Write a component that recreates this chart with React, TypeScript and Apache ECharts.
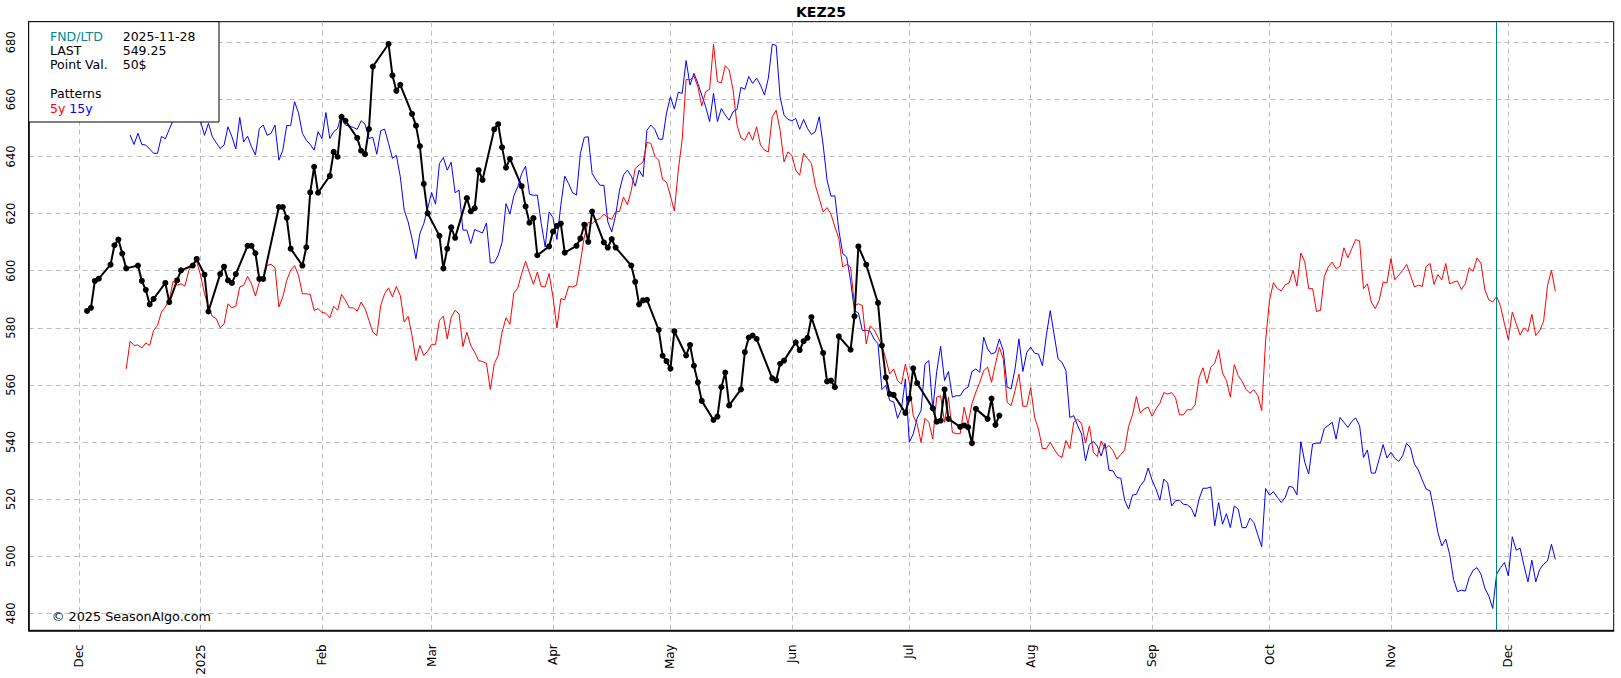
import React, { useEffect, useRef } from "react";
import * as echarts from "echarts";

const TITLE = "KEZ25";
const INFO_LABELS = ["FND/LTD", "LAST", "Point Val."];
const INFO_VALUES = ["2025-11-28", "549.25", "50$"];
const FND_DATE = "2025-11-28";
const COPYRIGHT = "\u00a9 2025 SeasonAlgo.com";
const MONTH_NAMES = ["Jan", "Feb", "Mar", "Apr", "May", "Jun", "Jul", "Aug", "Sep", "Oct", "Nov", "Dec"];
const MONTH_TICKS = [
  "2024-12-01", "2025-01-01", "2025-02-01", "2025-03-01", "2025-04-01", "2025-05-01", "2025-06-01",
  "2025-07-01", "2025-08-01", "2025-09-01", "2025-10-01", "2025-11-01", "2025-12-01",
];
const Y_TICKS = [480, 500, 520, 540, 560, 580, 600, 620, 640, 660, 680];
const X_MIN_DATE = "2024-11-18";
const X_MAX_DATE = "2025-12-27";
const Y_MIN = 474.05;
const Y_MAX = 687.2;

const HOLIDAYS = [
  "2024-12-25", "2025-01-01", "2025-01-20", "2025-02-17", "2025-04-18",
  "2025-05-26", "2025-06-19", "2025-07-04",
];

const BLACK_START = "2024-12-03";
const BLACK_Z25 = [
  585.9, 587.0, 596.4, 597.2,
  602.1, 608.9, 610.9, 606.0, 600.8,
  601.8, 596.4, 593.3, 588.2, 590.1,
  595.7, 589.0, 596.6, 600.1,
  601.8, 604.1, 598.6, 585.7,
  598.8, 601.4, 596.6, 595.7, 598.8,
  608.7, 608.7, 606.1, 597.1, 597.1,
  622.3, 622.3, 618.5, 607.7,
  601.8, 608.2, 627.4, 636.4, 627.3,
  633.2, 641.6, 639.9, 653.9, 652.5,
  646.5, 642.0, 640.8, 649.6, 671.5,
  679.4, 668.4, 663.0, 665.1,
  654.9, 650.8, 643.6, 630.4, 620.1,
  612.2, 600.8, 607.7, 615.2, 611.5,
  625.4, 620.8, 621.9, 635.2, 631.8,
  649.5, 651.3, 643.2, 636.1, 639.2,
  629.6, 622.5, 616.8, 618.4, 605.4,
  608.5, 613.7, 615.7, 616.5, 606.3,
  608.7, 611.3, 616.1, 610.1, 620.7,
  609.9, 608.1, 611.1, 608.1,
  601.8, 596.1, 588.2, 589.6, 589.8,
  579.3, 570.2, 568.3, 565.7, 578.8,
  570.3, 574.0, 566.7, 560.9, 554.4,
  547.7, 548.9, 559.2, 564.3, 552.8,
  558.4, 571.5, 576.6, 577.3, 576.1,
  562.3, 561.6, 567.4, 568.5,
  574.9, 572.2, 575.3, 576.5, 583.7,
  571.2, 561.2, 561.5, 559.2, 577.0,
  572.3, 584.0, 608.5, 602.1,
  588.7, 573.8, 562.6, 556.8, 556.5,
  550.2, 555.2, 565.8, 560.6,
  551.8, 547.1, 547.5, 558.4, 548.1,
  545.3, 545.8, 545.2, 539.6, 551.6,
  548.1, 555.2, 546.0, 549.25,
];

const RED_START = "2024-12-13";
const RED_5Y = [
  565.6, 575.3, 573.8, 574.0, 572.9, 574.7, 573.8, 579.1, 580.8, 585.5,
  587.3, 589.8, 596.4, 594.9, 595.4, 594.6, 600.1, 602.5, 603.2, 598.4,
  591.9, 587.3, 584.0, 583.2, 580.0, 581.4, 588.4, 587.0, 587.6, 594.3,
  594.9, 598.0, 595.4, 591.1, 596.0, 597.2, 601.9, 602.2, 601.1, 587.3,
  590.8, 596.6, 600.1, 601.8, 598.4, 591.9, 591.9, 591.7, 586.1, 586.7,
  585.4, 585.1, 583.5, 587.5, 586.1, 591.7, 589.6, 587.0, 587.0, 585.8,
  589.0, 586.7, 582.6, 578.5, 577.3, 587.8, 591.9, 594.0, 590.8, 594.5,
  591.3, 582.0, 584.0, 577.3, 568.5, 573.8, 570.3, 571.8, 574.2, 574.2,
  582.6, 584.1, 576.1, 583.7, 586.1, 584.9, 573.4, 578.4, 573.8, 571.5,
  568.5, 568.2, 567.6, 558.4, 567.4, 570.3, 578.5, 583.5, 581.2, 592.2,
  593.9, 599.0, 603.3, 599.2, 595.2, 599.5, 594.5, 594.3, 599.0, 590.8,
  579.9, 590.2, 589.8, 594.5, 594.3, 594.9, 603.0, 611.8, 617.0, 616.5,
  617.8, 618.2, 619.8, 618.6, 618.0, 620.6, 620.8, 625.8, 623.1, 628.2,
  635.8, 637.0, 638.1, 644.9, 644.6, 640.1, 638.7, 631.9, 631.0, 626.2,
  620.9, 635.2, 646.0, 667.0, 666.8, 668.2, 664.4, 657.7, 662.7, 663.5,
  679.3, 666.2, 665.8, 671.8, 670.3, 663.3, 651.0, 646.5, 645.7, 648.6,
  645.7, 650.4, 644.0, 642.2, 641.6, 653.9, 656.2, 649.2, 638.1, 641.6,
  640.4, 635.2, 633.4, 641.1, 639.3, 637.6, 629.9, 625.3, 620.6, 622.1,
  619.8, 615.3, 611.3, 601.3, 602.2, 601.3, 587.8, 588.4, 587.8, 574.4,
  580.6, 579.4, 576.7, 573.8, 569.1, 563.8, 565.6, 561.5, 560.3, 567.3,
  560.9, 549.2, 546.3, 539.9, 548.3, 546.9, 541.0, 555.7, 556.2, 546.9,
  555.7, 543.4, 542.9, 542.9, 552.2, 546.3, 553.4, 557.5, 560.9, 565.0,
  566.2, 560.9, 567.3, 573.2, 569.1, 553.9, 552.7, 558.0, 563.8, 552.5,
  552.5, 559.1, 548.6, 544.5, 537.7, 537.7, 539.9, 537.5, 535.4, 534.6,
  540.5, 537.7, 546.9, 548.0, 546.3, 539.6, 545.6, 536.4, 534.9, 540.3,
  537.6, 538.8, 537.0, 534.0, 535.6, 537.2, 545.4, 549.5, 555.9, 550.1,
  551.6, 552.2, 549.0, 551.6, 553.6, 557.3, 556.8, 557.3, 555.5, 549.5,
  549.5, 551.3, 551.3, 553.1, 562.6, 566.0, 560.6, 566.2, 567.6, 572.3,
  564.1, 561.5, 555.7, 567.1, 563.3, 561.3, 558.4, 557.1, 558.3, 556.3,
  551.0, 575.6, 589.6, 595.8, 593.7, 592.9, 595.1, 595.7, 600.1, 594.6,
  606.2, 603.1, 593.7, 593.7, 585.7, 586.1, 598.0, 601.3, 603.0, 600.7,
  601.5, 608.0, 604.5, 607.7, 610.9, 610.4, 593.7, 595.4, 589.0, 586.7,
  589.6, 596.0, 595.8, 604.2, 596.8, 598.4, 600.1, 602.2, 598.4, 594.3,
  594.9, 594.5, 601.5, 602.5, 595.2, 598.6, 596.8, 602.5, 595.4, 596.0,
  596.4, 593.4, 595.4, 601.0, 599.8, 604.5, 602.6, 593.3, 589.8, 589.0,
  591.0, 587.5, 581.4, 575.8, 585.5, 581.4, 577.5, 580.0, 578.7, 584.7,
  577.3, 579.0, 582.3, 594.8, 600.1, 592.8,
];

const BLUE_START = "2024-12-14";
const BLUE_15Y = [
  647.5, 644.2, 648.1, 644.2, 644.0, 642.6, 641.1, 641.1, 647.0, 646.2,
  649.5, 652.8, 655.0, 657.5, 661.0, 658.0, 655.0, 659.0, 652.2, 647.4,
  651.6, 646.9, 644.8, 642.8, 644.0, 650.4, 646.9, 642.6, 653.7, 645.1,
  647.1, 643.4, 640.5, 649.8, 651.0, 647.4, 648.1, 651.0, 638.7, 642.2,
  650.8, 650.8, 659.2, 655.3, 648.1, 645.7, 644.2, 642.2, 648.7, 646.3,
  655.4, 646.3, 648.7, 649.8, 654.9, 651.0, 650.6, 650.2, 649.5, 652.5,
  651.3, 646.3, 646.7, 640.8, 649.0, 649.6, 644.6, 639.3, 640.4, 632.9,
  621.2, 617.1, 611.2, 604.2, 613.0, 616.5, 621.8, 627.4, 623.3, 637.5,
  639.6, 635.2, 638.0, 627.3, 628.2, 614.2, 614.2, 609.5, 614.4, 613.8,
  613.2, 616.7, 602.7, 602.8, 605.4, 609.9, 623.5, 619.8, 626.2, 629.4,
  634.0, 636.6, 626.8, 626.4, 626.5, 616.5, 608.3, 620.6, 618.6, 610.9,
  622.9, 633.1, 630.5, 627.3, 626.5, 641.1, 646.7, 646.9, 634.0, 631.8,
  629.9, 629.9, 617.1, 613.6, 619.4, 628.2, 633.5, 635.2, 633.1, 629.6,
  635.2, 632.9, 649.2, 651.0, 649.5, 646.1, 646.0, 655.3, 660.9, 656.6,
  662.5, 662.1, 673.6, 665.0, 669.1, 665.6, 661.5, 657.4, 652.2, 662.1,
  652.2, 656.8, 654.5, 652.7, 655.7, 656.5, 664.2, 663.5, 668.0, 665.6,
  667.4, 665.0, 661.5, 667.4, 679.3, 678.9, 660.9, 654.5, 653.0, 652.5,
  653.3, 649.5, 653.0, 649.8, 647.7, 648.7, 653.9, 644.0, 631.7, 626.1,
  626.2, 614.2, 606.0, 604.8, 596.5, 586.0, 585.2, 579.1, 579.1, 578.8,
  576.1, 574.4, 558.4, 559.8, 554.5, 554.1, 548.3, 551.5, 562.1, 539.9,
  542.8, 548.3, 551.0, 567.3, 568.5, 551.5, 564.7, 573.5, 561.5, 564.7,
  555.7, 556.2, 556.2, 558.4, 559.2, 564.7, 565.6, 564.4, 576.7, 572.6,
  570.8, 571.4, 576.1, 572.0, 559.2, 558.6, 565.6, 576.1, 564.7, 571.4,
  573.2, 571.1, 570.8, 566.7, 577.3, 586.0, 577.5, 569.1, 567.9, 565.0,
  548.6, 549.2, 545.7, 542.8, 533.4, 539.1, 540.2, 538.6, 535.1, 539.5,
  530.1, 529.9, 527.6, 527.3, 519.6, 516.5, 521.4, 521.7, 524.7, 526.4,
  530.9, 526.7, 523.5, 519.6, 527.0, 525.6, 517.6, 519.4, 519.7, 518.2,
  518.0, 516.8, 513.8, 520.0, 523.8, 523.8, 524.3, 510.6, 518.8, 511.2,
  514.9, 510.0, 517.6, 516.5, 510.0, 510.0, 513.3, 511.8, 507.5, 503.3,
  523.7, 521.4, 522.6, 520.6, 518.8, 520.6, 524.5, 524.1, 521.5, 540.1,
  532.9, 528.8, 539.3, 539.6, 539.6, 544.8, 545.8, 546.9, 541.0, 548.6,
  546.9, 545.1, 547.2, 548.4, 545.7, 534.6, 537.2, 529.1, 529.1, 534.0,
  539.1, 534.4, 536.4, 534.3, 533.2, 535.2, 539.5, 537.9, 532.3, 530.2,
  526.7, 523.5, 522.9, 515.9, 508.3, 503.6, 506.0, 500.7, 491.9, 487.6,
  488.1, 487.8, 492.5, 495.1, 496.0, 493.7, 488.8, 486.1, 481.7, 493.7,
  496.0, 497.8, 493.1, 506.8, 502.1, 502.8, 496.6, 491.0, 498.6, 491.0,
  495.4, 497.2, 498.3, 504.2, 498.9,
];

const DAY = 86400000;
const FONT = "DejaVu Sans";

function parseDay(s: string): number {
  const [y, m, d] = s.split("-").map(Number);
  return new Date(y, m - 1, d).getTime();
}
function dayKey(t: number): string {
  const d = new Date(t);
  const mm = String(d.getMonth() + 1).padStart(2, "0");
  const dd = String(d.getDate()).padStart(2, "0");
  return `${d.getFullYear()}-${mm}-${dd}`;
}
function dailySeries(start: string, values: number[]): [number, number][] {
  const s = new Date(parseDay(start));
  return values.map((v, i) => [new Date(s.getFullYear(), s.getMonth(), s.getDate() + i).getTime(), v]);
}
function tradingSeries(start: string, values: number[], holidays: string[]): [number, number][] {
  const out: [number, number][] = [];
  const s = new Date(parseDay(start));
  let i = 0;
  while (out.length < values.length && i < 1000) {
    const d = new Date(s.getFullYear(), s.getMonth(), s.getDate() + i);
    i++;
    const wd = d.getDay();
    if (wd === 0 || wd === 6) continue;
    if (holidays.indexOf(dayKey(d.getTime())) >= 0) continue;
    out.push([d.getTime(), values[out.length]]);
  }
  return out;
}

export default function App() {
  const ref = useRef<HTMLDivElement>(null);
  useEffect(() => {
    if (!ref.current) return;
    const chart = echarts.init(ref.current, undefined, { renderer: "svg" });
    const monthTs = MONTH_TICKS.map(parseDay);
    const xMin = parseDay(X_MIN_DATE) + 0.1 * DAY;
    const xMax = parseDay(X_MAX_DATE) + 0.9 * DAY;
    const gridLine = { show: true, lineStyle: { color: "#bdbdbd", type: [5, 4], width: 1 } };
    const txt = (text: string, x: number, y: number, fill: string, extra: any = {}) => ({
      type: "text",
      x,
      y,
      z: 101,
      silent: true,
      style: {
        text,
        fill,
        fontSize: 12.5,
        fontFamily: FONT,
        align: "left",
        verticalAlign: "middle",
        ...extra,
      },
    });
    const option: any = {
      animation: false,
      textStyle: { fontFamily: FONT },
      grid: {
        left: 28.7,
        right: 7.3,
        top: 21.7,
        bottom: 47.7,
        show: true,
        borderColor: "#000",
        borderWidth: 1,
        containLabel: false,
        outerBoundsMode: "none",
      },
      xAxis: {
        type: "value",
        min: xMin,
        max: xMax,
        axisLine: { show: true, onZero: false, lineStyle: { color: "#000", width: 1.5 } },
        axisTick: { show: false, customValues: monthTs },
        axisLabel: {
          customValues: monthTs,
          rotate: 90,
          margin: 14,
          fontSize: 12,
          color: "#000",
          fontFamily: FONT,
          hideOverlap: false,
          showMinLabel: true,
          showMaxLabel: true,
          formatter: (v: number) => {
            const d = new Date(v);
            return d.getMonth() === 0 ? String(d.getFullYear()) : MONTH_NAMES[d.getMonth()];
          },
        },
        splitLine: gridLine,
      },
      yAxis: {
        type: "value",
        min: Y_MIN,
        max: Y_MAX,
        axisLine: { show: true, onZero: false, lineStyle: { color: "#000", width: 1.5 } },
        axisTick: { show: false, customValues: Y_TICKS },
        axisLabel: {
          customValues: Y_TICKS,
          rotate: 90,
          margin: 12,
          fontSize: 11.5,
          color: "#000",
          fontFamily: FONT,
        },
        splitLine: gridLine,
      },
      series: [
        {
          name: "15y",
          type: "line",
          data: dailySeries(BLUE_START, BLUE_15Y),
          showSymbol: false,
          silent: true,
          lineStyle: { color: "#0000ff", width: 1 },
          itemStyle: { color: "#0000ff" },
          z: 2,
        },
        {
          name: "5y",
          type: "line",
          data: dailySeries(RED_START, RED_5Y),
          showSymbol: false,
          silent: true,
          lineStyle: { color: "#ff0000", width: 1 },
          itemStyle: { color: "#ff0000" },
          z: 3,
        },
        {
          name: "KEZ25",
          type: "line",
          data: tradingSeries(BLACK_START, BLACK_Z25, HOLIDAYS),
          symbol: "circle",
          symbolSize: 6,
          showSymbol: true,
          showAllSymbol: true,
          silent: true,
          lineStyle: { color: "#000", width: 2 },
          itemStyle: { color: "#000" },
          z: 4,
          markLine: {
            silent: true,
            symbol: ["none", "none"],
            label: { show: false },
            lineStyle: { color: "#008080", width: 1, type: "solid" },
            data: [{ xAxis: parseDay(FND_DATE) }],
          },
        },
      ],
      graphic: [
        {
          type: "text",
          x: 821,
          y: 11.5,
          silent: true,
          style: {
            text: TITLE,
            fill: "#000",
            fontSize: 14,
            fontWeight: "bold",
            fontFamily: FONT,
            align: "center",
            verticalAlign: "middle",
          },
        },
        {
          type: "rect",
          z: 100,
          silent: true,
          shape: { x: 28.7, y: 21.7, width: 190.3, height: 100.3 },
          style: { fill: "#ffffff", stroke: "#000", lineWidth: 1 },
        },
        txt(INFO_LABELS[0], 50, 36.5, "#008b8b"),
        txt(INFO_LABELS[1], 50, 50.5, "#000"),
        txt(INFO_LABELS[2], 50, 64.5, "#000"),
        txt(INFO_VALUES[0], 122.7, 36.5, "#000"),
        txt(INFO_VALUES[1], 122.7, 50.5, "#000"),
        txt(INFO_VALUES[2], 122.7, 64.5, "#000"),
        txt("Patterns", 50, 93.5, "#000"),
        txt("{r|5y} {b|15y}", 50, 108, "#000", {
          rich: {
            r: { fill: "#ff0000", fontSize: 12.5, fontFamily: FONT },
            b: { fill: "#0000ff", fontSize: 12.5, fontFamily: FONT },
          },
        }),
        {
          type: "text",
          x: 51.7,
          y: 616.5,
          z: 101,
          silent: true,
          style: {
            text: COPYRIGHT,
            fill: "#000",
            fontSize: 12.8,
            fontFamily: FONT,
            align: "left",
            verticalAlign: "middle",
          },
        },
      ],
    };
    chart.setOption(option);
    return () => chart.dispose();
  }, []);
  return (
    <div
      ref={ref}
      style={{ position: "fixed", left: 0, top: 0, width: 1621, height: 678, background: "#fff" }}
    />
  );
}
